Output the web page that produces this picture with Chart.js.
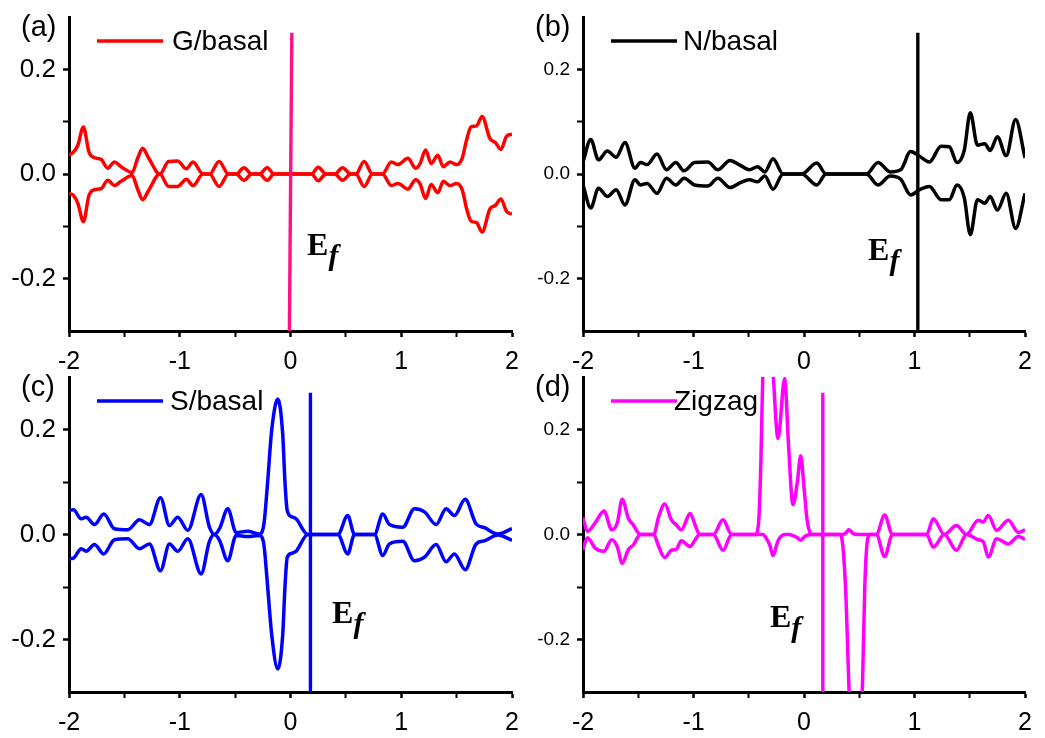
<!DOCTYPE html>
<html>
<head>
<meta charset="utf-8">
<title>DOS panels</title>
<script src="https://cdn.jsdelivr.net/npm/chart.js@4.4.1/dist/chart.umd.min.js"></script>
<style>
  html, body { margin: 0; padding: 0; background: #fff; }
  #wrap { position: relative; width: 1045px; height: 738px; overflow: hidden; }
  #wrap canvas { position: absolute; }
</style>
</head>
<body>
<div id="wrap">
  <canvas id="panelA" width="522" height="369" style="left:0;top:0"></canvas>
  <canvas id="panelB" width="521" height="369" style="left:514px;top:0"></canvas>
  <canvas id="panelC" width="522" height="378" style="left:0;top:360px"></canvas>
  <canvas id="panelD" width="521" height="378" style="left:514px;top:360px"></canvas>
</div>
<script>
// (a) G/basal
const gEnergy = [-2.0, -1.96, -1.92, -1.87, -1.82, -1.77, -1.71, -1.65, -1.59, -1.53,
  -1.43, -1.38, -1.335, -1.28, -1.18, -1.10, -1.02, -0.94, -0.88, -0.79,
  -0.73, -0.645, -0.56, -0.49, -0.42, -0.35, -0.28, -0.21, -0.15, 0.19,
  0.25, 0.32, 0.40, 0.47, 0.545, 0.59, 0.665, 0.74, 0.83, 0.91,
  0.97, 1.06, 1.13, 1.17, 1.22, 1.27, 1.33, 1.38, 1.44, 1.50,
  1.55, 1.59, 1.63, 1.68, 1.73, 1.80, 1.85, 1.90, 1.95, 2.0];
const gUp = [0.036, 0.042, 0.055, 0.090, 0.042, 0.031, 0.028, 0.011, 0.023, 0.014,
  0.003, 0.030, 0.049, 0.030, 0.0, 0.024, 0.025, 0.010, 0.023, 0.0,
  0.0, 0.024, 0.0, 0.0, 0.012, 0.0, 0.0, 0.012, 0.0, 0.0,
  0.013, 0.0, 0.0, 0.012, 0.0, 0.0, 0.024, 0.0, 0.0, 0.023,
  0.018, 0.030, 0.011, 0.020, 0.046, 0.020, 0.036, 0.014, 0.023, 0.018,
  0.030, 0.065, 0.090, 0.092, 0.110, 0.068, 0.060, 0.047, 0.072, 0.076];
const gDown = [-0.037, -0.041, -0.056, -0.091, -0.041, -0.030, -0.028, -0.012, -0.022, -0.014,
  -0.003, -0.029, -0.049, -0.031, 0.0, -0.024, -0.024, -0.010, -0.022, 0.0,
  0.0, -0.024, 0.0, 0.0, -0.012, 0.0, 0.0, -0.012, 0.0, 0.0,
  -0.013, 0.0, 0.0, -0.012, 0.0, 0.0, -0.024, 0.0, 0.0, -0.022,
  -0.018, -0.029, -0.011, -0.019, -0.047, -0.020, -0.036, -0.014, -0.022, -0.018,
  -0.030, -0.066, -0.090, -0.093, -0.111, -0.067, -0.060, -0.048, -0.071, -0.077];
const gEf = [-0.01, 0.012];

// (b) N/basal
const nEnergy = [-2.0, -1.93, -1.86, -1.78, -1.70, -1.62, -1.53, -1.48, -1.42, -1.33,
  -1.245, -1.16, -1.085, -0.99, -0.87, -0.78, -0.67, -0.58, -0.495, -0.42,
  -0.355, -0.28, -0.19, -0.02, 0.115, 0.20, 0.565, 0.67, 0.78, 0.875,
  0.965, 1.045, 1.135, 1.24, 1.315, 1.385, 1.45, 1.505, 1.57, 1.635,
  1.685, 1.75, 1.83, 1.915, 2.0];
const nUp = [0.023, 0.066, 0.027, 0.044, 0.032, 0.060, 0.011, 0.022, 0.018, 0.038,
  0.008, 0.022, 0.006, 0.022, 0.023, 0.008, 0.026, 0.017, 0.008, 0.014,
  0.004, 0.029, 0.0, 0.0, 0.021, 0.0, 0.0, 0.022, 0.004, 0.008,
  0.043, 0.034, 0.023, 0.053, 0.052, 0.022, 0.045, 0.117, 0.055, 0.058,
  0.045, 0.071, 0.035, 0.104, 0.031];
const nDown = [-0.021, -0.065, -0.027, -0.043, -0.030, -0.059, -0.011, -0.021, -0.018, -0.037,
  -0.008, -0.021, -0.008, -0.021, -0.023, -0.008, -0.026, -0.017, -0.011, -0.015,
  -0.004, -0.029, 0.0, 0.0, -0.021, 0.0, 0.0, -0.021, -0.004, -0.010,
  -0.040, -0.030, -0.024, -0.049, -0.049, -0.021, -0.045, -0.116, -0.049, -0.056,
  -0.043, -0.069, -0.037, -0.104, -0.037];
const nEf = [1.03, 1.03];

// (c) S/basal
const sEnergy = [-2.0, -1.96, -1.89, -1.845, -1.77, -1.686, -1.59, -1.469, -1.364, -1.274,
  -1.174, -1.093, -1.018, -0.927, -0.807, -0.732, -0.687, -0.641, -0.566, -0.491,
  -0.386, -0.28, -0.24, -0.21, -0.17, -0.115, -0.07, -0.05, -0.03, 0.01,
  0.05, 0.156, 0.427, 0.517, 0.578, 0.758, 0.833, 0.893, 1.014, 1.119,
  1.21, 1.315, 1.405, 1.48, 1.577, 1.676, 1.751, 1.872, 2.0];
const sUp = [0.046, 0.047, 0.030, 0.033, 0.019, 0.039, 0.011, 0.009, 0.028, 0.019,
  0.070, 0.017, 0.033, 0.008, 0.076, 0.014, 0.0, 0.011, 0.049, 0.004,
  0.006, 0.001, 0.02, 0.09, 0.198, 0.258, 0.19, 0.10, 0.046, 0.034,
  0.030, 0.0, 0.0, 0.036, 0.0, 0.0, 0.039, 0.019, 0.014, 0.049,
  0.043, 0.019, 0.049, 0.036, 0.067, 0.020, 0.013, 0.001, 0.011];
const sDown = [-0.046, -0.045, -0.027, -0.032, -0.019, -0.037, -0.010, -0.008, -0.027, -0.018,
  -0.069, -0.018, -0.032, -0.008, -0.075, -0.013, 0.0, -0.011, -0.050, -0.002,
  -0.004, -0.002, -0.02, -0.09, -0.19, -0.256, -0.19, -0.10, -0.044, -0.036,
  -0.032, 0.0, 0.0, -0.037, 0.0, 0.0, -0.040, -0.018, -0.013, -0.050,
  -0.043, -0.019, -0.052, -0.037, -0.067, -0.018, -0.012, -0.001, -0.011];
const sEf = [0.18, 0.18];

// (d) Zigzag
const zEnergy = [-2.0, -1.96, -1.89, -1.81, -1.74, -1.69, -1.645, -1.59, -1.545, -1.48,
  -1.36, -1.315, -1.26, -1.20, -1.155, -1.11, -1.03, -0.985, -0.945, -0.82,
  -0.733, -0.655, -0.44, -0.41, -0.39, -0.37, -0.345, -0.31, -0.28, -0.235,
  -0.175, -0.14, -0.10, -0.06, -0.03, 0.0, 0.03, 0.07, 0.33, 0.355,
  0.38, 0.405, 0.44, 0.47, 0.50, 0.53, 0.55, 0.575, 0.60, 0.655,
  0.73, 0.80, 1.11, 1.17, 1.27, 1.38, 1.47, 1.577, 1.623, 1.668,
  1.743, 1.849, 1.94, 2.0];
const zUp = [0.032, 0.006, 0.022, 0.045, 0.009, 0.022, 0.067, 0.031, 0.018, 0.0,
  0.0, 0.034, 0.058, 0.028, 0.018, 0.009, 0.040, 0.018, 0.0, 0.0,
  0.028, 0.0, 0.0, 0.025, 0.14, 0.33, 0.42, 0.42, 0.31, 0.183,
  0.297, 0.17, 0.057, 0.10, 0.150, 0.09, 0.025, 0.0, 0.0, 0.0,
  0.003, 0.009, 0.003, 0.0, 0.0, 0.0, 0.0, 0.0, 0.0, 0.0,
  0.037, 0.0, 0.0, 0.030, 0.0, 0.017, 0.0, 0.027, 0.024, 0.036,
  0.008, 0.027, 0.004, 0.009];
const zDown = [-0.029, -0.006, -0.026, -0.032, -0.010, -0.023, -0.055, -0.029, -0.020, 0.0,
  0.0, -0.023, -0.044, -0.030, -0.028, -0.012, -0.023, -0.010, 0.0, 0.0,
  -0.030, 0.0, 0.0, 0.0, 0.0, 0.0, -0.006, -0.02, -0.040, -0.012,
  0.0, 0.0, -0.002, -0.006, -0.011, -0.005, -0.001, 0.0, 0.0, -0.03,
  -0.12, -0.28, -0.45, -0.50, -0.45, -0.28, -0.10, -0.01, 0.0, 0.0,
  -0.042, 0.0, 0.0, -0.024, 0.0, -0.030, 0.0, -0.010, -0.014, -0.043,
  -0.008, -0.018, -0.004, -0.009];
const zEf = [0.17, 0.17];

// Ef marker runs from the bottom of the frame to just under the top
const efSpan = [-0.3, 0.27];

Chart.defaults.font.family = '"Liberation Sans", Arial, sans-serif';
Chart.defaults.color = '#000';

function pts(xs, ys) {
  return xs.map((x, i) => ({ x: x, y: ys[i] }));
}

// panel tag, legend sample and the E_f label
const panelText = {
  id: 'panelText',
  afterDatasetsDraw(chart, args, opts) {
    const ctx = chart.ctx;
    const area = chart.chartArea;
    ctx.save();
    ctx.fillStyle = '#000';
    ctx.textBaseline = 'middle';
    ctx.font = '29px "Liberation Sans", Arial, sans-serif';
    ctx.fillText(opts.tag, area.left - 48, area.top + 11);

    ctx.strokeStyle = opts.color;
    ctx.lineWidth = 3.5;
    ctx.beginPath();
    ctx.moveTo(area.left + 28, area.top + 24);
    ctx.lineTo(area.left + 94, area.top + 24);
    ctx.stroke();
    ctx.font = '28px "Liberation Sans", Arial, sans-serif';
    ctx.fillText(opts.name, area.left + opts.nameGap, area.top + 25);

    const ex = chart.scales.x.getPixelForValue(opts.efLabel[0]);
    const ey = chart.scales.y.getPixelForValue(opts.efLabel[1]);
    ctx.textBaseline = 'alphabetic';
    ctx.font = 'bold 32px "Liberation Serif", "Times New Roman", serif';
    ctx.fillText('E', ex, ey);
    const w = ctx.measureText('E').width;
    ctx.font = 'italic bold 30px "Liberation Serif", "Times New Roman", serif';
    ctx.fillText('f', ex + w, ey + 10);
    ctx.restore();
  }
};

const panels = [
  { id: 'panelA', tag: '(a)', name: 'G/basal', color: '#ff0000', efColor: '#ff1087',
    energy: gEnergy, up: gUp, down: gDown, ef: gEf, efLabel: [0.15, -0.154],
    nameGap: 103, yTickSize: 26, xAxisH: 38 },
  { id: 'panelB', tag: '(b)', name: 'N/basal', color: '#000000', efColor: '#000000',
    energy: nEnergy, up: nUp, down: nDown, ef: nEf, efLabel: [0.58, -0.164],
    nameGap: 100, yTickSize: 19, xAxisH: 38 },
  { id: 'panelC', tag: '(c)', name: 'S/basal', color: '#0000ff', efColor: '#0000ff',
    energy: sEnergy, up: sUp, down: sDown, ef: sEf, efLabel: [0.375, -0.168],
    nameGap: 101, yTickSize: 26, xAxisH: 46 },
  { id: 'panelD', tag: '(d)', name: 'Zigzag', color: '#ff00ff', efColor: '#ff00ff',
    energy: zEnergy, up: zUp, down: zDown, ef: zEf, efLabel: [-0.308, -0.177],
    nameGap: 91, yTickSize: 19, xAxisH: 46 }
];

// keep the label overhang from shrinking the plot frame
function noLabelPadding(s) {
  s.paddingLeft = 0;
  s.paddingRight = 0;
  s.paddingTop = 0;
  s.paddingBottom = 0;
}

function makePanel(p) {
  const curve = {
    borderColor: p.color,
    borderWidth: 3.5,
    showLine: true,
    pointRadius: 0,
    cubicInterpolationMode: 'monotone',
    clip: 0
  };
  new Chart(document.getElementById(p.id), {
    type: 'scatter',
    data: {
      datasets: [
        { data: pts(p.ef, efSpan), borderColor: p.efColor, borderWidth: 3.4,
          showLine: true, pointRadius: 0, clip: 0 },
        Object.assign({ data: pts(p.energy, p.up) }, curve),
        Object.assign({ data: pts(p.energy, p.down) }, curve)
      ]
    },
    options: {
      responsive: false,
      animation: false,
      events: [],
      layout: { padding: { top: 17, right: 10, left: 0, bottom: 0 } },
      plugins: {
        legend: { display: false },
        tooltip: { enabled: false },
        panelText: { tag: p.tag, name: p.name, color: p.color, efLabel: p.efLabel, nameGap: p.nameGap }
      },
      scales: {
        x: {
          type: 'linear',
          min: -2,
          max: 2,
          ticks: {
            stepSize: 0.5,
            autoSkip: false,
            maxRotation: 0,
            padding: 10,
            color: '#000',
            font: { size: 25 },
            callback: v => {
              const r = Math.round(v * 2);
              return r % 2 === 0 ? String(r / 2) : '';
            }
          },
          grid: {
            drawOnChartArea: false,
            tickLength: 6,
            tickColor: '#000',
            tickWidth: c => (Math.round(c.tick.value * 2) % 2 === 0 ? 2.5 : 2)
          },
          border: { color: '#000', width: 3 },
          afterFit: s => { s.height = p.xAxisH; noLabelPadding(s); }
        },
        y: {
          type: 'linear',
          min: -0.3,
          max: 0.3,
          ticks: {
            stepSize: 0.1,
            padding: 7,
            color: '#000',
            font: { size: p.yTickSize },
            callback: v => {
              const r = Math.round(v * 10);
              if (Math.abs(r) === 3) return null;
              return r % 2 === 0 ? (r / 10).toFixed(1) : '';
            }
          },
          grid: {
            drawOnChartArea: false,
            tickLength: 6,
            tickColor: '#000',
            tickWidth: c => (Math.round(c.tick.value * 10) % 2 === 0 ? 2.5 : 2)
          },
          border: { color: '#000', width: 3 },
          afterFit: s => { s.width = 69; noLabelPadding(s); }
        }
      }
    },
    plugins: [panelText]
  });
}

panels.forEach(makePanel);
</script>
</body>
</html>
